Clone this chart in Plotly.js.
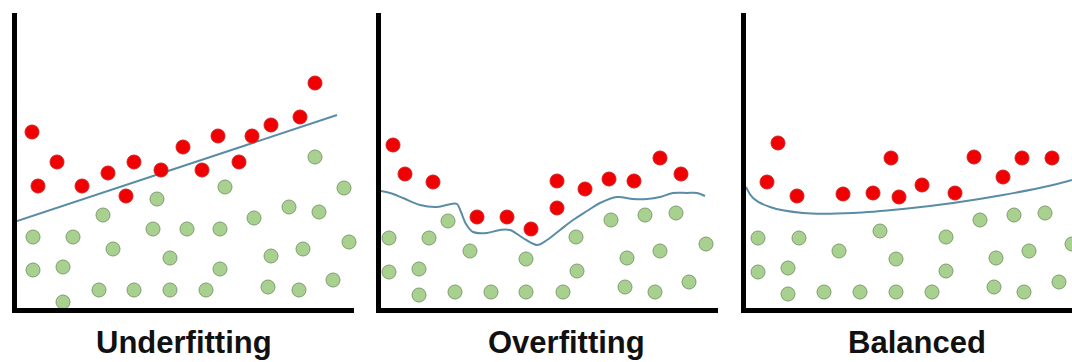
<!DOCTYPE html>
<html>
<head>
<meta charset="utf-8">
<script src="https://cdn.plot.ly/plotly-3.0.1.min.js"></script>
<style>html,body{margin:0;padding:0;background:#fff;}#chart{width:1072px;height:362px;}</style>
</head>
<body>
<div id="chart"></div>
<script>
// ---------- Panel titles ----------
const panelTitles = ["Underfitting", "Overfitting", "Balanced"];

// ---------- Panel 1: Underfitting ----------
const underRedX = [15, 21, 40, 65, 91, 109, 117, 144, 166, 185, 201, 222, 235, 254, 283, 298];
const underRedY = [176, 122, 146, 122, 135, 112, 146, 138, 161, 138, 172, 146, 172, 183, 191, 225];
const underGreenX = [16, 56, 86, 96, 16, 46, 46, 82, 117, 153, 189, 136, 140, 153, 170, 203, 208, 203, 237, 254, 251, 272, 286, 282, 298, 302, 316, 327, 332];
const underGreenY = [71, 71, 93, 59, 38, 41, 6, 18, 18, 18, 18, 79, 109, 50, 79, 79, 121, 39, 90, 52, 21, 101, 59, 18, 151, 96, 28, 120, 66];
const underFitX = [0, 320];
const underFitY = [87, 193];

// ---------- Panel 2: Overfitting ----------
const overRedX = [12, 24, 52, 96, 126, 150, 176, 176, 204, 228, 253, 279, 300];
const overRedY = [163, 134, 126, 91, 91, 79, 127, 100, 119, 129, 127, 150, 134];
const overGreenX = [8, 48, 67, 89, 8, 38, 38, 74, 110, 145, 182, 145, 195, 196, 230, 246, 244, 264, 279, 274, 295, 308, 325];
const overGreenY = [70, 70, 87, 57, 36, 39, 13, 16, 16, 16, 16, 49, 71, 37, 88, 50, 21, 93, 57, 16, 95, 26, 64];
const overFitX = [0, 9, 22, 39, 56, 70, 76, 80, 85, 92, 106, 119, 129, 142, 156, 166, 179, 192, 206, 219, 236, 252, 266, 279, 292, 306, 316, 324];
const overFitY = [117, 115, 110, 103, 101, 104, 104, 96, 84, 76, 75, 78, 78, 70, 63, 68, 78, 88, 97, 105, 111, 109, 109, 111, 115, 115, 115, 112];

// ---------- Panel 3: Balanced ----------
const balRedX = [32, 21, 51, 97, 127, 145, 153, 176, 209, 228, 257, 276, 306];
const balRedY = [165, 126, 112, 114, 115, 150, 111, 123, 115, 151, 131, 150, 150];
const balGreenX = [12, 53, 93, 134, 200, 12, 42, 42, 78, 114, 150, 186, 150, 200, 234, 250, 248, 268, 283, 278, 299, 313, 326];
const balGreenY = [70, 70, 57, 77, 71, 36, 40, 14, 16, 16, 16, 16, 49, 37, 88, 50, 21, 93, 57, 16, 95, 26, 64];
const balFitX = [0, 7, 24, 57, 107, 157, 207, 257, 307, 326];
const balFitY = [121, 110, 101, 95, 95, 99, 105, 113, 123, 128];

// ---------- styles ----------
const RED = '#f00000', RED_EDGE = '#d42020';
const GREEN = '#a8d08e', GREEN_EDGE = '#7f9c70';
const FIT = '#5a8ca6';

const panels = [
  {rx: underRedX, ry: underRedY, gx: underGreenX, gy: underGreenY, fx: underFitX, fy: underFitY, shape: 'linear'},
  {rx: overRedX, ry: overRedY, gx: overGreenX, gy: overGreenY, fx: overFitX, fy: overFitY, shape: 'spline'},
  {rx: balRedX, ry: balRedY, gx: balGreenX, gy: balGreenY, fx: balFitX, fy: balFitY, shape: 'spline'}
];

const W = 1072, H = 362;
const plotLeft = [17, 381, 746];
const plotRight = [354, 718, 1072];
const plotTop = 13, plotBottom = 308;
const titleCenters = [184, 566, 917];

const data = [];
const layout = {
  width: W, height: H,
  margin: {l: 0, r: 0, t: 0, b: 0},
  paper_bgcolor: '#ffffff', plot_bgcolor: '#ffffff',
  showlegend: false,
  annotations: []
};

panels.forEach((p, i) => {
  const n = i === 0 ? '' : String(i + 1);
  const xa = 'x' + n, ya = 'y' + n;
  data.push({x: p.fx, y: p.fy, xaxis: xa, yaxis: ya, type: 'scatter', mode: 'lines',
    line: {color: FIT, width: 2, shape: p.shape, smoothing: 1.0}, hoverinfo: 'skip'});
  data.push({x: p.gx, y: p.gy, xaxis: xa, yaxis: ya, type: 'scatter', mode: 'markers', cliponaxis: false,
    marker: {size: 14, color: GREEN, line: {color: GREEN_EDGE, width: 1}}});
  data.push({x: p.rx, y: p.ry, xaxis: xa, yaxis: ya, type: 'scatter', mode: 'markers', cliponaxis: false,
    marker: {size: 14, color: RED, line: {color: RED_EDGE, width: 1}}});

  const axBase = {showline: true, linecolor: '#000000', linewidth: 5, showgrid: false,
    zeroline: false, showticklabels: false, ticks: '', fixedrange: true};
  layout['xaxis' + n] = Object.assign({}, axBase, {
    domain: [plotLeft[i] / W, plotRight[i] / W],
    range: [0, plotRight[i] - plotLeft[i]],
    anchor: ya
  });
  layout['yaxis' + n] = Object.assign({}, axBase, {
    domain: [(H - plotBottom) / H, (H - plotTop) / H],
    range: [0, plotBottom - plotTop],
    anchor: xa
  });
  layout.annotations.push({
    text: '<b>' + panelTitles[i] + '</b>', xref: 'paper', yref: 'paper',
    x: titleCenters[i] / W, y: (H - 342) / H, xanchor: 'center', yanchor: 'middle',
    showarrow: false,
    font: {family: '"Liberation Sans", Arial, sans-serif', size: 31, color: '#111111'}
  });
});

Plotly.newPlot('chart', data, layout, {displayModeBar: false, staticPlot: true});
</script>
</body>
</html>
